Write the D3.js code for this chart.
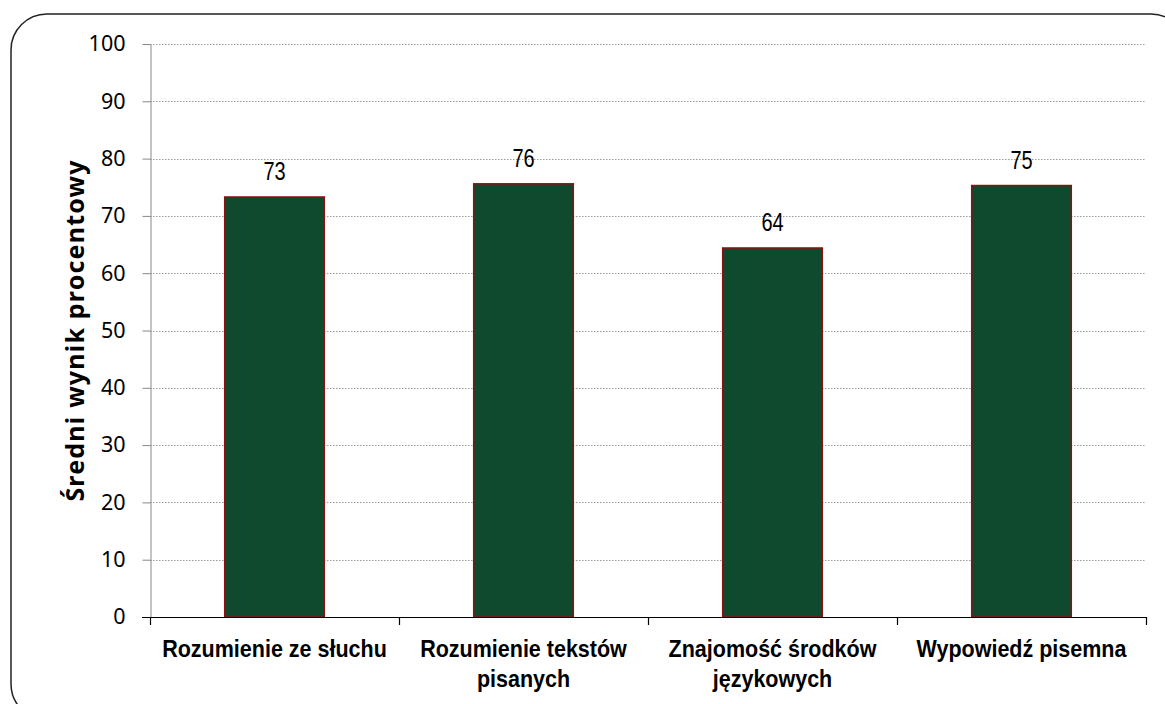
<!DOCTYPE html>
<html>
<head>
<meta charset="utf-8">
<script src="https://cdn.jsdelivr.net/npm/d3@7"></script>
<style>
  body { margin: 0; background: #fff; }
  svg { display: block; }
</style>
</head>
<body>
<div id="chart"></div>
<script>
// dane wykresu
const kategorie = [
  ["Rozumienie ze słuchu"],
  ["Rozumienie tekstów", "pisanych"],
  ["Znajomość środków", "językowych"],
  ["Wypowiedź pisemna"]
];
const wyniki = [73.3, 75.6, 64.4, 75.3];
const tickiY = [0, 10, 20, 30, 40, 50, 60, 70, 80, 90, 100];
const tytulY = "Średni wynik procentowy";

const width = 1165, height = 704;
const margin = { top: 44, right: 19, bottom: 87, left: 150 };

const svg = d3.select("#chart").append("svg")
  .attr("width", width)
  .attr("height", height);

// ramka z zaokrąglonymi rogami
svg.append("rect")
  .attr("x", 11).attr("y", 14)
  .attr("width", 1176).attr("height", 706)
  .attr("rx", 36).attr("ry", 36)
  .attr("fill", "none")
  .attr("stroke", "#222")
  .attr("stroke-width", 1.5);

const x = d3.scaleBand()
  .domain(d3.range(kategorie.length))
  .range([margin.left, width - margin.right])
  .paddingInner(0.6)
  .paddingOuter(0.3);

const y = d3.scaleLinear()
  .domain([0, 100])
  .range([height - margin.bottom, margin.top]);

// linie siatki (kropkowane)
svg.append("g")
  .selectAll("line")
  .data(tickiY.filter(d => d > 0))
  .enter().append("line")
  .attr("x1", margin.left)
  .attr("x2", width - margin.right)
  .attr("y1", d => Math.round(y(d)) + 0.5)
  .attr("y2", d => Math.round(y(d)) + 0.5)
  .attr("stroke", "#999")
  .attr("stroke-width", 1)
  .attr("stroke-dasharray", "1.5,1.5");

// oś Y
const osY = svg.append("g")
  .attr("transform", `translate(${margin.left + 0.5},0)`)
  .call(d3.axisLeft(y).tickValues(tickiY).tickSize(8).tickPadding(17).tickSizeOuter(0));
osY.select(".domain").attr("stroke", "#888");
osY.selectAll(".tick line").attr("stroke", "#888");
osY.selectAll(".tick text")
  .attr("fill", "#000")
  .style("font-family", "'Noto Sans', 'Open Sans', sans-serif")
  .style("font-size", "21.5px");

// słupki
svg.append("g")
  .selectAll("rect")
  .data(wyniki)
  .enter().append("rect")
  .attr("x", (d, i) => x(i))
  .attr("y", d => y(d))
  .attr("width", x.bandwidth())
  .attr("height", d => y(0) - y(d))
  .attr("fill", "#0f4a2f")
  .attr("stroke", "#8b1010")
  .attr("stroke-width", 1.5);

// etykiety wartości (zwężona czcionka)
svg.append("g")
  .selectAll("text")
  .data(wyniki)
  .enter().append("text")
  .attr("transform", (d, i) => `translate(${x(i) + x.bandwidth() / 2},${y(d) - 17}) scale(0.8,1)`)
  .attr("text-anchor", "middle")
  .style("font-family", "'Liberation Sans', Arial, sans-serif")
  .style("font-size", "25px")
  .text(d => Math.round(d));

// oś X
const x0 = height - margin.bottom;
const granice = d3.range(kategorie.length + 1).map(i => margin.left + i * (width - margin.right - margin.left) / kategorie.length);
svg.append("line")
  .attr("x1", margin.left - 8).attr("x2", width - margin.right)
  .attr("y1", x0 + 0.5).attr("y2", x0 + 0.5)
  .attr("stroke", "#000").attr("stroke-width", 1.2);
svg.append("g")
  .selectAll("line")
  .data(granice)
  .enter().append("line")
  .attr("x1", d => Math.round(d) + 0.5).attr("x2", d => Math.round(d) + 0.5)
  .attr("y1", x0).attr("y2", x0 + 8)
  .attr("stroke", "#000").attr("stroke-width", 1.2);

// etykiety kategorii (lekko zwężone)
const etykiety = svg.append("g")
  .selectAll("text")
  .data(kategorie)
  .enter().append("text")
  .attr("transform", (d, i) => `translate(${x(i) + x.bandwidth() / 2},${x0 + 40}) scale(0.915,1)`)
  .attr("text-anchor", "middle")
  .style("font-family", "'Liberation Sans', Arial, sans-serif")
  .style("font-weight", "bold")
  .style("font-size", "23.5px");
etykiety.each(function(d) {
  const t = d3.select(this);
  d.forEach((linia, j) => {
    t.append("tspan")
      .attr("x", 0)
      .attr("dy", j === 0 ? 0 : 30)
      .text(linia);
  });
});

// tytuł osi Y
svg.append("text")
  .attr("transform", `translate(75,${(y(0) + y(100)) / 2}) rotate(-90)`)
  .attr("dy", "0.35em")
  .attr("text-anchor", "middle")
  .style("font-family", "'Noto Sans', 'Open Sans', sans-serif")
  .style("font-weight", "bold")
  .style("font-size", "25px")
  .style("letter-spacing", "1.2px")
  .text(tytulY);
</script>
</body>
</html>
